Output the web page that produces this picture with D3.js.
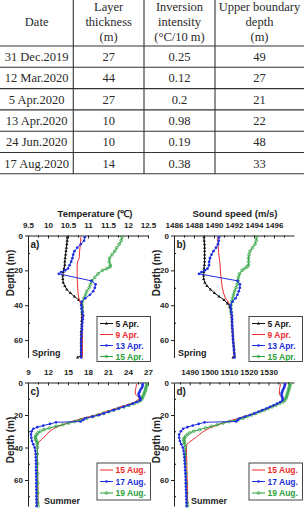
<!DOCTYPE html>
<html>
<head>
<meta charset="utf-8">
<script src="https://d3js.org/d3.v7.min.js"></script>
<style>
  body{margin:0;background:#fff;}
  svg{display:block;}
  svg text.cell{font-family:"Liberation Serif","Times New Roman","DejaVu Serif",serif;font-size:12.5px;fill:#2a2a2a;font-weight:normal;}
  .chart text{font-family:"Liberation Sans",Arial,sans-serif;font-weight:bold;fill:#222;}
</style>
</head>
<body>
<svg id="fig" width="304" height="510"></svg>
<script>
// ---- table values
const tableHeader = [["Date"], ["Layer", "thickness", "(m)"], ["Inversion", "intensity", "(°C/10 m)"], ["Upper boundary", "depth", "(m)"]];
const tableDates = ["31 Dec.2019", "12 Mar.2020", "5 Apr.2020", "13 Apr.2020", "24 Jun.2020", "17 Aug.2020"];
const layerThickness = ["27", "44", "27", "10", "10", "14"];
const inversionIntensity = ["0.25", "0.12", "0.2", "0.98", "0.19", "0.38"];
const upperDepth = ["49", "27", "21", "22", "48", "33"];

// ---- profiles, each point is [depth (m), value]
const temp5Apr = [[1,10.48],[3,10.48],[5,10.47],[7,10.46],[9,10.45],[11,10.44],[13,10.43],[15,10.42],[17,10.42],[19,10.40],[21,10.38],[23,10.37],[25,10.37],[27,10.38],[29,10.42],[31,10.47],[33,10.56],[35,10.66],[37,10.77],[39,10.84],[41,10.86],[43,10.86],[45,10.85],[47,10.85],[49,10.84],[51,10.84],[53,10.84],[55,10.83],[57,10.83],[59,10.83],[61,10.83],[63,10.83],[65,10.83],[67,10.83],[69,10.82],[70,10.74]];
const temp9Apr = [[1,10.82],[5,10.81],[9,10.79],[13,10.78],[15,10.74],[17,10.73],[21,10.73],[25,10.73],[29,10.74],[33,10.75],[36,10.77],[38,10.80],[40,10.84],[44,10.86],[50,10.86],[56,10.86],[62,10.86],[68,10.86],[70,10.86]];
const temp13Apr = [[1,10.92],[3,10.90],[5,10.82],[7,10.73],[9,10.66],[11,10.63],[13,10.61],[15,10.58],[17,10.54],[19,10.50],[20,10.43],[21,10.33],[22,10.27],[26,11.08],[28,11.19],[30,11.17],[32,11.13],[34,11.05],[36,10.93],[38,10.84],[40,10.83],[42,10.84],[44,10.86],[46,10.88],[48,10.87],[50,10.86],[52,10.85],[54,10.85],[56,10.84],[58,10.84],[60,10.83],[62,10.83],[64,10.83],[66,10.83],[68,10.83],[70,10.83]];
const temp15Apr = [[1,11.85],[3,11.83],[5,11.78],[7,11.72],[9,11.67],[11,11.60],[13,11.54],[15,11.53],[17,11.56],[18,11.55],[19,11.47],[20,11.36],[22,11.25],[24,11.17],[26,11.10],[28,11.06],[30,11.03],[32,10.97],[34,10.94],[36,10.90],[38,10.86],[40,10.85],[42,10.85],[44,10.85]];

const speed5Apr = [[1,1489.00],[3,1489.02],[5,1489.05],[7,1489.06],[9,1489.06],[11,1489.06],[13,1489.06],[15,1489.06],[17,1489.04],[19,1489.00],[21,1488.97],[23,1488.96],[25,1488.97],[27,1489.08],[29,1489.30],[31,1489.65],[33,1490.05],[35,1490.50],[37,1491.00],[39,1491.35],[41,1491.58],[43,1491.68],[45,1491.72],[47,1491.75],[49,1491.78],[51,1491.80],[53,1491.83],[55,1491.85],[57,1491.88],[59,1491.90],[61,1491.93],[63,1491.96],[65,1492.00],[67,1492.03],[69,1492.06],[70,1491.90]];
const speed9Apr = [[1,1490.36],[5,1490.40],[9,1490.45],[13,1490.52],[15,1490.58],[17,1490.60],[21,1490.65],[25,1490.72],[29,1490.80],[33,1490.95],[36,1491.15],[38,1491.40],[40,1491.62],[44,1491.75],[50,1491.82],[56,1491.88],[62,1491.95],[68,1492.00],[70,1492.02]];
const speed13Apr = [[1,1490.50],[3,1490.48],[5,1490.40],[7,1490.20],[9,1489.95],[11,1489.75],[13,1489.60],[15,1489.52],[17,1489.50],[19,1489.35],[20,1489.10],[21,1488.75],[22,1488.50],[26,1492.35],[28,1492.60],[30,1492.58],[32,1492.48],[34,1492.35],[36,1492.15],[38,1491.85],[40,1491.66],[42,1491.68],[44,1491.74],[46,1491.80],[48,1491.81],[50,1491.82],[52,1491.83],[54,1491.85],[56,1491.87],[58,1491.89],[60,1491.91],[62,1491.94],[64,1491.97],[66,1492.00],[68,1492.03],[70,1492.05]];
const speed15Apr = [[1,1494.26],[3,1494.22],[5,1494.10],[7,1493.85],[9,1493.60],[11,1493.50],[13,1493.45],[15,1493.47],[17,1493.45],[18,1493.30],[19,1493.05],[20,1492.80],[22,1492.55],[24,1492.45],[26,1492.40],[28,1492.32],[30,1492.20],[32,1492.05],[34,1491.95],[36,1491.87],[38,1491.78],[40,1491.70],[42,1491.70],[44,1491.72]];

const temp15Aug = [[1,25.3],[3,25.2],[5,25.1],[7,25.1],[8,25.3],[9,25.6],[10,25.7],[11,25.4],[12,25.0],[13,24.4],[14,23.6],[15,22.8],[16,22.1],[17,21.4],[18,20.6],[19,19.9],[20,19.1],[21,18.2],[22,17.2],[23,16.4],[24,15.6],[25,14.9],[26,14.2],[27,13.6],[28,13.0],[29,12.6],[30,12.3],[31,12.0],[32,11.8],[33,11.55],[34,11.3],[35,11.05],[36,10.8],[37,10.55],[38,10.4],[40,10.4],[45,10.42],[50,10.45],[55,10.45],[60,10.47],[65,10.48],[70,10.5],[75,10.5]];
const temp17Aug = [[1,26.2],[2,26.2],[3,26.1],[4,25.95],[5,25.8],[6,25.7],[7,25.6],[8,25.65],[9,25.75],[10,25.9],[11,25.8],[12,25.3],[13,24.7],[14,24.0],[15,23.3],[16,22.6],[17,21.8],[18,21.1],[19,20.4],[20,19.7],[21,18.7],[22,17.6],[23,17.3],[24,16.9],[24.5,13.2],[25.5,12.3],[26.5,11.3],[27.5,10.4],[28.5,9.8],[30,9.55],[32,9.45],[34,9.5],[36,9.6],[38,9.8],[40,10.0],[42,10.1],[44,10.15],[46,10.18],[48,10.2],[50,10.2],[52,10.21],[54,10.22],[56,10.22],[58,10.23],[60,10.24],[62,10.24],[64,10.25],[66,10.25],[68,10.26],[70,10.26],[72,10.27],[74,10.28],[76,10.28]];
const temp19Aug = [[1,26.8],[2,26.8],[3,26.7],[4,26.65],[5,26.6],[6,26.5],[7,26.4],[8,26.3],[9,26.2],[10,26.1],[11,25.9],[12,25.5],[13,24.9],[14,24.2],[15,23.4],[16,22.6],[17,21.9],[18,21.1],[19,20.3],[20,19.5],[21,18.7],[22,17.8],[23,16.9],[24,16.0],[25,15.1],[26,14.2],[27,13.2],[28,12.2],[29,11.4],[30,10.9],[31,10.5],[32,10.3],[33,10.15],[34,10.1],[35,10.15],[36,10.3],[37,10.38],[38,10.4],[40,10.4],[44,10.4],[50,10.42],[56,10.43],[62,10.45],[68,10.46],[74,10.48],[76,10.5]];

const speed15Aug = [[1,1536.1],[3,1535.8],[5,1535.6],[7,1535.6],[8,1536.0],[9,1536.8],[10,1537.4],[11,1537.0],[12,1536.2],[13,1535.0],[14,1533.4],[15,1531.6],[16,1529.8],[17,1527.6],[18,1525.2],[19,1522.6],[20,1520.0],[21,1517.4],[22,1514.8],[23,1512.0],[24,1509.2],[25,1506.6],[26,1504.4],[27,1502.2],[28,1500.2],[29,1498.6],[30,1497.2],[31,1496.0],[32,1494.9],[33,1493.9],[34,1492.9],[35,1491.8],[36,1490.6],[37,1489.5],[38,1488.6],[40,1488.3],[45,1488.4],[50,1488.5],[55,1488.6],[60,1488.7],[65,1488.8],[70,1488.9],[75,1489.0]];
const speed17Aug = [[1,1538.4],[2,1538.3],[3,1538.0],[4,1537.6],[5,1537.2],[6,1536.9],[7,1536.7],[8,1536.8],[9,1537.0],[10,1537.3],[11,1537.1],[12,1536.0],[13,1534.4],[14,1532.6],[15,1530.8],[16,1528.9],[17,1526.8],[18,1524.8],[19,1522.8],[20,1520.6],[21,1518.0],[22,1515.4],[23,1514.5],[24,1513.6],[24.5,1497.5],[25.5,1494.5],[26.5,1491.5],[27.5,1488.8],[28.5,1486.6],[30,1485.5],[32,1484.6],[34,1484.6],[36,1485.0],[38,1485.7],[40,1486.5],[42,1486.9],[44,1487.1],[46,1487.3],[48,1487.4],[50,1487.5],[52,1487.6],[54,1487.7],[56,1487.8],[58,1487.9],[60,1487.95],[62,1488.0],[64,1488.05],[66,1488.1],[68,1488.2],[70,1488.25],[72,1488.3],[74,1488.35],[76,1488.4]];
const speed19Aug = [[1,1541.0],[2,1540.9],[3,1540.6],[4,1540.4],[5,1540.2],[6,1539.9],[7,1539.6],[8,1539.4],[9,1539.1],[10,1538.8],[11,1538.3],[12,1537.3],[13,1535.6],[14,1533.8],[15,1531.8],[16,1529.8],[17,1527.9],[18,1525.8],[19,1523.6],[20,1521.4],[21,1519.2],[22,1517.0],[23,1514.4],[24,1510.0],[25,1507.0],[26,1504.0],[27,1501.0],[28,1498.0],[29,1495.0],[30,1492.0],[31,1490.0],[32,1488.8],[33,1487.9],[34,1487.3],[35,1487.0],[36,1487.1],[37,1487.3],[38,1487.5],[40,1487.7],[44,1487.8],[50,1487.9],[56,1488.1],[62,1488.3],[68,1488.5],[74,1488.7],[76,1488.8]];

// ---- tick labels
const tempSpringTicks = [9.5, 10, 10.5, 11, 11.5, 12, 12.5];
const speedSpringTicks = [1486, 1488, 1490, 1492, 1494, 1496];
const tempSummerTicks = [9, 12, 15, 18, 21, 24, 27];
const speedSummerTicks = [1490, 1500, 1510, 1520, 1530];
const depthTicks = [0, 20, 40, 60];
const springNames = ["5 Apr.", "9 Apr.", "13 Apr.", "15 Apr."];
const summerNames = ["15 Aug.", "17 Aug.", "19 Aug."];

const colors = {black: "#151515", red: "#ee2b2e", blue: "#2130e0", green: "#2aa13c"};

const svg = d3.select("#fig");

// ---------------- table
const colEdges = [0, 73.3, 144, 215, 304];
const headBottom = 46, rowH = 21.3;
const tbl = svg.append("g");
const colX = i => (colEdges[i] + colEdges[i + 1]) / 2;

tableHeader.forEach((lines, i) => {
    lines.forEach((t, j) => {
        tbl.append("text").attr("class", "cell")
            .attr("x", colX(i))
            .attr("y", 21.7 + (j - (lines.length - 1) / 2) * 15)
            .attr("dy", "0.35em")
            .attr("text-anchor", "middle")
            .text(t);
    });
});
const tableCols = [tableDates, layerThickness, inversionIntensity, upperDepth];
tableCols.forEach((col, i) => {
    col.forEach((t, r) => {
        tbl.append("text").attr("class", "cell")
            .attr("x", colX(i))
            .attr("y", headBottom + rowH * (r + 0.5))
            .attr("dy", "0.35em")
            .attr("text-anchor", "middle")
            .text(t);
    });
});
const tableBottom = headBottom + rowH * tableDates.length;
for (let r = 0; r <= tableDates.length; r++) {
    tbl.append("line")
        .attr("x1", 0).attr("x2", 304)
        .attr("y1", headBottom + rowH * r).attr("y2", headBottom + rowH * r)
        .attr("stroke", "#333").attr("stroke-width", 1.1);
}
[1, 2, 3].forEach(i => {
    tbl.append("line")
        .attr("x1", colEdges[i]).attr("x2", colEdges[i])
        .attr("y1", 0).attr("y2", tableBottom)
        .attr("stroke", "#333").attr("stroke-width", 1.1);
});

// ---------------- profile panels
function drawMarker(g, kind, color, px, py) {
    if (kind === "tri") {
        g.append("path").attr("d", d3.symbol(d3.symbolTriangle, 4.5)())
            .attr("transform", `translate(${px},${py})`).attr("fill", color);
    } else if (kind === "dot") {
        g.append("circle").attr("cx", px).attr("cy", py).attr("r", 1.35).attr("fill", color);
    } else if (kind === "ring") {
        g.append("circle").attr("cx", px).attr("cy", py).attr("r", 1.4)
            .attr("fill", "none").attr("stroke", color).attr("stroke-width", 0.7);
    }
}

function drawPanel(p) {
    const g = svg.append("g").attr("class", "chart");
    const x = d3.scaleLinear().domain(p.xDomain).range([p.left, p.right]);
    const y = d3.scaleLinear().domain(p.yDomain).range([p.top, p.bottom]);

    // minor ticks
    g.append("g").attr("transform", `translate(0,${p.top})`)
        .call(d3.axisTop(x).tickValues(p.minorX).tickSize(-2).tickFormat(""))
        .call(s => s.select(".domain").remove());
    g.append("g").attr("transform", `translate(${p.left},0)`)
        .call(d3.axisLeft(y).tickValues(p.minorY).tickSize(-2).tickFormat(""))
        .call(s => s.select(".domain").remove());

    const top = g.append("g").attr("transform", `translate(0,${p.top})`)
        .call(d3.axisTop(x).tickValues(p.majorX).tickSizeInner(-3).tickSizeOuter(0).tickPadding(8).tickFormat(d => String(d)));
    const left = g.append("g").attr("transform", `translate(${p.left},0)`)
        .call(d3.axisLeft(y).tickValues(depthTicks).tickSize(3).tickSizeOuter(0).tickPadding(2));
    [top, left].forEach(a => {
        a.selectAll("text").attr("font-size", 8).attr("font-family", null);
        a.selectAll("line,path").attr("stroke", "#222");
    });

    if (p.title) {
        g.append("text").attr("x", p.titleX).attr("y", 216.5)
            .attr("text-anchor", "middle").attr("font-size", 9.5).text(p.title);
    }
    g.append("text")
        .attr("transform", `translate(${p.left - 14},${p.labelY}) rotate(-90)`)
        .attr("text-anchor", "middle").attr("font-size", 10).text("Depth (m)");
    g.append("text").attr("x", p.left + 2.5).attr("y", p.top + 12.5)
        .attr("font-size", 10).text(p.tag);
    g.append("text").attr("x", p.left + p.seasonDx).attr("y", p.bottom - 2)
        .attr("font-size", 9).text(p.season);

    // profiles
    const line = d3.line().x(d => x(d[1])).y(d => y(d[0]));
    p.order.forEach(i => {
        const s = p.series[i];
        g.append("path").datum(s.data)
            .attr("fill", "none").attr("stroke", s.color)
            .attr("stroke-width", 1).attr("d", line);
        if (s.marker) s.data.forEach(d => drawMarker(g, s.marker, s.color, x(d[1]), y(d[0])));
    });

    // legend
    const b = p.legend;
    g.append("rect").attr("x", b.x).attr("y", b.y).attr("width", b.w).attr("height", b.h)
        .attr("fill", "#fff").attr("stroke", "#333").attr("stroke-width", 0.9);
    p.series.forEach((s, i) => {
        const ry = b.y + 7 + i * b.step;
        g.append("line").attr("x1", b.x + 3).attr("x2", b.x + 16)
            .attr("y1", ry).attr("y2", ry).attr("stroke", s.color).attr("stroke-width", 1);
        if (s.marker) drawMarker(g, s.marker, s.color, b.x + 9.5, ry);
        g.append("text").attr("x", b.x + 18.5).attr("y", ry + 3)
            .attr("font-size", 8.5).style("fill", s.color).text(s.name);
    });
}

const springSeries = (a, b, c, d) => [
    {name: springNames[0], data: a, color: colors.black, marker: "tri"},
    {name: springNames[1], data: b, color: colors.red, marker: null},
    {name: springNames[2], data: c, color: colors.blue, marker: "dot"},
    {name: springNames[3], data: d, color: colors.green, marker: "ring"}
];
const summerSeries = (a, b, c) => [
    {name: summerNames[0], data: a, color: colors.red, marker: null},
    {name: summerNames[1], data: b, color: colors.blue, marker: "dot"},
    {name: summerNames[2], data: c, color: colors.green, marker: "ring"}
];

const springTop = 235.5, springBottom = 357.5, summerTop = 382.5, summerBottom = 506;

drawPanel({
    left: 28, right: 148, top: springTop, bottom: springBottom,
    xDomain: [9.5, 12.5], yDomain: [0, 70],
    majorX: tempSpringTicks, minorX: d3.range(9.75, 12.5, 0.5), minorY: [10, 30, 50],
    title: "Temperature (\u2103)", titleX: 95, tag: "a)", season: "Spring", seasonDx: 4, labelY: 273,
    series: springSeries(temp5Apr, temp9Apr, temp13Apr, temp15Apr), order: [0, 1, 3, 2],
    legend: {x: 97, y: 316.5, w: 53.5, h: 45, step: 11}
});
drawPanel({
    left: 174, right: 294, top: springTop, bottom: springBottom,
    xDomain: [1486, 1498], yDomain: [0, 70],
    majorX: speedSpringTicks, minorX: [1487, 1489, 1491, 1493, 1495, 1497], minorY: [10, 30, 50],
    title: "Sound speed (m/s)", titleX: 235, tag: "b)", season: "Spring", seasonDx: 4, labelY: 273,
    series: springSeries(speed5Apr, speed9Apr, speed13Apr, speed15Apr), order: [0, 1, 3, 2],
    legend: {x: 249, y: 316.5, w: 53.5, h: 45, step: 11}
});
drawPanel({
    left: 28, right: 148, top: summerTop, bottom: summerBottom,
    xDomain: [9, 27], yDomain: [0, 76],
    majorX: tempSummerTicks, minorX: d3.range(10.5, 27, 3), minorY: [10, 30, 50, 70],
    title: null, tag: "c)", season: "Summer", seasonDx: 16, labelY: 440,
    series: summerSeries(temp15Aug, temp17Aug, temp19Aug), order: [0, 2, 1],
    legend: {x: 97, y: 463, w: 53.5, h: 37, step: 11.5}
});
drawPanel({
    left: 174, right: 294, top: summerTop, bottom: summerBottom,
    xDomain: [1482, 1543], yDomain: [0, 76],
    majorX: speedSummerTicks, minorX: [1485, 1495, 1505, 1515, 1525, 1535, 1540], minorY: [10, 30, 50, 70],
    title: null, tag: "d)", season: "Summer", seasonDx: 17, labelY: 440,
    series: summerSeries(speed15Aug, speed17Aug, speed19Aug), order: [0, 2, 1],
    legend: {x: 249, y: 463, w: 53.5, h: 37, step: 11.5}
});
</script>
</body>
</html>
